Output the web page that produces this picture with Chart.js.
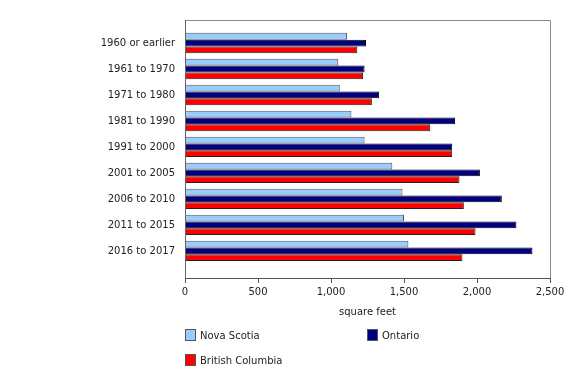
<!DOCTYPE html>
<html>
<head>
<meta charset="utf-8">
<script src="https://cdn.jsdelivr.net/npm/chart.js@4"></script>
<style>
    body { margin: 0; background: #fff; }
    #wrap { position: relative; width: 580px; height: 370px; }
    .leg { position: absolute; font: 10px "DejaVu Sans", sans-serif; color: #222; line-height: 12px; }
    .leg span.box { display: inline-block; width: 9px; height: 10px; border: 1px solid #555; vertical-align: -2px; margin-right: 4px; }
</style>
</head>
<body>
<div id="wrap">
    <canvas id="myChart" width="580" height="370"></canvas>
    <div class="leg" style="left:185px; top:329px;"><span class="box" style="background:#99ccff"></span>Nova Scotia</div>
    <div class="leg" style="left:367px; top:329px;"><span class="box" style="background:#000080"></span>Ontario</div>
    <div class="leg" style="left:185px; top:354px;"><span class="box" style="background:#ff0000"></span>British Columbia</div>
</div>
<script>
    "use strict";

    const categories = ['1960 or earlier', '1961 to 1970', '1971 to 1980', '1981 to 1990', '1991 to 2000',
        '2001 to 2005', '2006 to 2010', '2011 to 2015', '2016 to 2017'];
    const novaScotia = [1110, 1050, 1060, 1140, 1230, 1420, 1490, 1500, 1530];
    const ontario = [1240, 1230, 1330, 1850, 1830, 2020, 2170, 2270, 2380];
    const britishColumbia = [1180, 1220, 1280, 1680, 1830, 1880, 1910, 1990, 1900];
    const xTicks = [0, 500, 1000, 1500, 2000, 2500];

    function toPoints(values) {
        return values.map((v, i) => ({ x: v, y: i }));
    }

    // grey frame round the plot area
    const frame = {
        id: 'frame',
        afterDraw(chart) {
            const { ctx, chartArea: a } = chart;
            ctx.save();
            ctx.strokeStyle = '#888';
            ctx.lineWidth = 1;
            ctx.beginPath();
            ctx.moveTo(a.left + 0.5, a.top + 0.5);
            ctx.lineTo(a.right + 0.5, a.top + 0.5);
            ctx.lineTo(a.right + 0.5, a.bottom);
            ctx.stroke();
            ctx.strokeStyle = '#666';
            ctx.beginPath();
            ctx.moveTo(a.left + 0.5, a.bottom);
            ctx.lineTo(a.left + 0.5, a.top);
            ctx.stroke();
            ctx.restore();
        }
    };

    Chart.defaults.font.family = '"DejaVu Sans", Verdana, sans-serif';
    Chart.defaults.font.size = 10;
    Chart.defaults.color = '#222';

    const ctx = document.getElementById('myChart').getContext('2d');
    new Chart(ctx, {
        type: 'bar',
        data: {
            datasets: [{
                label: 'Nova Scotia',
                data: toPoints(novaScotia),
                backgroundColor: '#99ccff',
                borderColor: '#555',
                borderWidth: 1
            },
            {
                label: 'Ontario',
                data: toPoints(ontario),
                backgroundColor: '#000080',
                borderColor: '#000',
                borderWidth: 1
            },
            {
                label: 'British Columbia',
                data: toPoints(britishColumbia),
                backgroundColor: '#ff0000',
                borderColor: '#222',
                borderWidth: 1
            }]
        },
        options: {
            indexAxis: 'y',
            responsive: false,
            animation: false,
            layout: { padding: { top: 20, right: 30, bottom: 48, left: 0 } },
            datasets: { bar: { categoryPercentage: 0.78, barPercentage: 1 } },
            scales: {
                y: {
                    type: 'linear',
                    offset: false,
                    reverse: true,
                    min: -0.885,
                    max: 9.04,
                    afterFit: s => { s.width = 185; },
                    afterBuildTicks: s => { s.ticks = categories.map((_, i) => ({ value: i })); },
                    ticks: {
                        padding: 10,
                        callback: v => categories[v] || ''
                    },
                    grid: { display: false, drawTicks: false },
                    border: { display: true, color: '#666' }
                },
                x: {
                    min: 0,
                    max: 2500,
                    afterFit: s => { s.height = 44; },
                    afterBuildTicks: s => { s.ticks = xTicks.map(v => ({ value: v })); },
                    ticks: {
                        padding: 3,
                        maxRotation: 0,
                        callback: v => v.toLocaleString('en-US')
                    },
                    grid: { drawOnChartArea: false, drawTicks: true, tickLength: 5, color: '#555' },
                    border: { display: true, color: '#555' },
                    title: { display: true, text: 'square feet', padding: { top: 8, bottom: 4 } }
                }
            },
            plugins: {
                legend: { display: false },
                tooltip: { enabled: false }
            }
        },
        plugins: [frame]
    });
</script>
</body>
</html>
